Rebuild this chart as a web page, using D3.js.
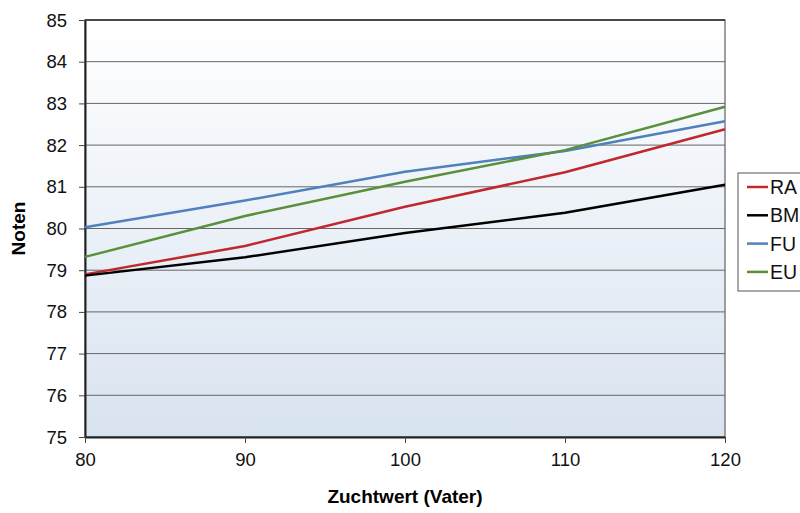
<!DOCTYPE html>
<html lang="de">
<head>
  <meta charset="UTF-8">
  <title>Noten nach Zuchtwert</title>
  <style>
    html, body { margin: 0; padding: 0; background: #fff; overflow: hidden; }
    svg { display: block; }
    * { font-family: "Liberation Sans", Arial, sans-serif; }
  </style>
</head>
<body>
<div id="chart"></div>
<script src="https://d3js.org/d3.v7.js"></script>
<script type="text/javascript">

  // data
  var zuchtwert = [80, 90, 100, 110, 120];
  var seriesNames = ["RA", "BM", "FU", "EU"];
  var ra = [78.90, 79.58, 80.52, 81.35, 82.38];
  var bm = [78.87, 79.31, 79.89, 80.38, 81.05];
  var fu = [80.03, 80.67, 81.36, 81.86, 82.57];
  var eu = [79.32, 80.30, 81.12, 81.88, 82.92];
  var colors = ["#c0282d", "#000000", "#4f81bd", "#5a8f3c"];
  var yTicks = [75, 76, 77, 78, 79, 80, 81, 82, 83, 84, 85];
  var xTicks = [80, 90, 100, 110, 120];

  var w = 800;
  var h = 513;
  var margin = {top: 20, right: 75, bottom: 76, left: 85};
  var innerWidth = w - margin.left - margin.right;
  var innerHeight = h - margin.top - margin.bottom;

  var svg = d3.select("#chart")
          .append("svg")
          .attr("width", w)
          .attr("height", h);

  // plot background gradient
  var grad = svg.append("defs")
          .append("linearGradient")
          .attr("id", "bg")
          .attr("x1", 0).attr("y1", 0)
          .attr("x2", 0).attr("y2", 1);
  grad.append("stop").attr("offset", "0%").attr("stop-color", "#ffffff");
  grad.append("stop").attr("offset", "100%").attr("stop-color", "#d8e3f0");

  var plot = svg.append("g")
          .attr("id", "plot")
          .attr("transform", `translate (${margin.left}, ${margin.top})`);

  var xScale = d3.scaleLinear()
          .domain([80, 120])
          .range([0, innerWidth]);

  var yScale = d3.scaleLinear()
          .domain([75, 85])
          .range([innerHeight, 0]);

  plot.append("rect")
          .attr("width", innerWidth)
          .attr("height", innerHeight)
          .attr("fill", "url(#bg)")
          .attr("stroke", "#7f7f7f")
          .attr("stroke-width", 1.5);

  // gridlines
  plot.append("g")
          .selectAll("line")
          .data(yTicks)
          .enter()
          .append("line")
          .attr("x1", 0)
          .attr("x2", innerWidth)
          .attr("y1", d => yScale(d))
          .attr("y2", d => yScale(d))
          .attr("stroke", "#666")
          .attr("stroke-width", 1);

  // axes
  var yAxis = plot.append("g")
          .call(d3.axisLeft(yScale).tickValues(yTicks).tickSize(6).tickPadding(12).tickSizeOuter(0));
  var xAxis = plot.append("g")
          .attr("transform", `translate (0, ${innerHeight})`)
          .call(d3.axisBottom(xScale).tickValues(xTicks).tickSize(6).tickPadding(10).tickSizeOuter(0));

  [yAxis, xAxis].forEach(function(a) {
    a.attr("font-size", "18.5px");
    a.select(".domain").attr("stroke", "#222").attr("stroke-width", 2);
    a.selectAll(".tick line").attr("stroke", "#444");
    a.selectAll("text")
            .attr("fill", "#111")
            .style("font-family", "'Liberation Sans', Arial, sans-serif");
  });
  yAxis.selectAll("text").attr("dy", "6px");
  xAxis.selectAll("text").attr("dy", "13px");

  // top border darker like the original
  plot.append("line")
          .attr("x1", 0).attr("x2", innerWidth)
          .attr("y1", 0).attr("y2", 0)
          .attr("stroke", "#333").attr("stroke-width", 1.5);

  // lines
  var allSeries = [ra, bm, fu, eu];
  var line = d3.line()
          .x((d, i) => xScale(zuchtwert[i]))
          .y(d => yScale(d));

  plot.append("g")
          .selectAll("path")
          .data(allSeries)
          .enter()
          .append("path")
          .attr("d", d => line(d))
          .attr("fill", "none")
          .attr("stroke", (d, i) => colors[i])
          .attr("stroke-width", 2.5)
          .attr("stroke-linejoin", "round");

  // axis titles
  svg.append("text")
          .attr("x", margin.left + innerWidth / 2)
          .attr("y", 503)
          .attr("text-anchor", "middle")
          .attr("font-size", "19px")
          .attr("font-weight", "bold")
          .text("Zuchtwert (Vater)");

  svg.append("text")
          .attr("transform", `translate (25, ${margin.top + innerHeight / 2}) rotate(-90)`)
          .attr("text-anchor", "middle")
          .attr("font-size", "19px")
          .attr("font-weight", "bold")
          .text("Noten");

  // legend
  var legend = svg.append("g")
          .attr("transform", "translate (738, 173)");
  legend.append("rect")
          .attr("width", 70)
          .attr("height", 118)
          .attr("fill", "#fff")
          .attr("stroke", "#555")
          .attr("stroke-width", 1);

  var items = legend.selectAll("g.item")
          .data(seriesNames)
          .enter()
          .append("g")
          .attr("class", "item")
          .attr("transform", (d, i) => `translate (0, ${14 + i * 28.3})`);
  items.append("line")
          .attr("x1", 9).attr("x2", 30)
          .attr("y1", 0).attr("y2", 0)
          .attr("stroke", (d, i) => colors[i])
          .attr("stroke-width", 2.5);
  items.append("text")
          .attr("x", 32)
          .attr("y", 7)
          .attr("font-size", "19.5px")
          .attr("fill", "#111")
          .text(d => d);

</script>
</body>
</html>
